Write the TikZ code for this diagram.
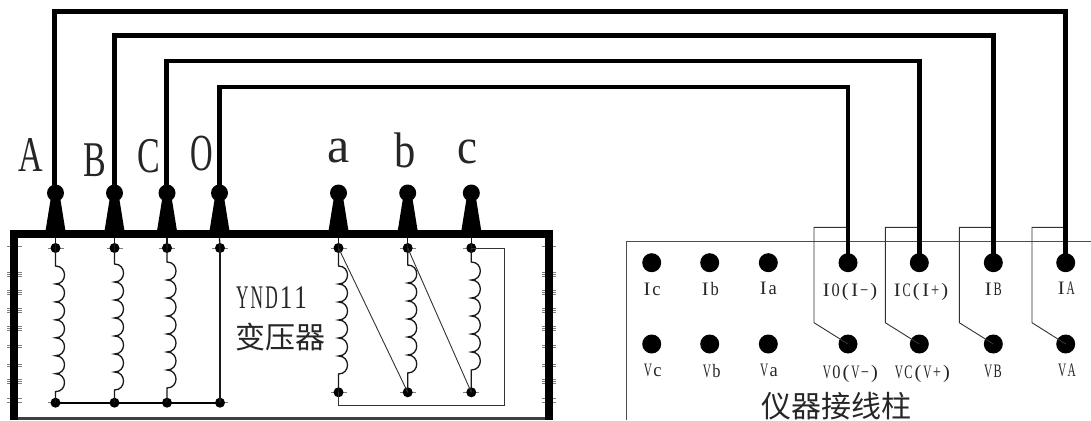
\documentclass[tikz,border=0pt]{standalone}
\usepackage{fontspec}
\setmainfont{Liberation Serif}
\newfontfamily\cjk{Noto Sans CJK SC}
\newcommand{\nar}[3]{\scalebox{#2}[1]{\fontsize{#1}{#1}\selectfont #3}}
% half-width text: every glyph is fitted to one fixed cell
\newdimen\hwadv
\newbox\hwbox
\def\hwfill{8}
\def\hwloop#1{\ifx#1\relax\else
  \setbox\hwbox\hbox{#1}%
  \pgfmathsetmacro\hwsc{min(1.08,\hwfill/(\the\wd\hwbox))}%
  \makebox[\hwadv][c]{\scalebox{\hwsc}[1]{#1}}\expandafter\hwloop\fi}
\newcommand{\hw}[4]{{\fontsize{#1}{#1}\selectfont\hwadv=#2pt\def\hwfill{#3}\edef\hwtmp{#4}\expandafter\hwloop\hwtmp\relax}}
\tikzset{
  x=1pt,y=-1pt,
  wire/.style={line width=4.6pt,line join=miter},
  lead/.style={line width=1.3pt,black!90},
  bus/.style={line width=2pt,black},
  thin lead/.style={line width=0.9pt,black!80},
  pin/.style={circle,fill=black,inner sep=0pt,minimum size=19pt},
  ball/.style={circle,fill=black,inner sep=0pt,minimum size=17pt},
  dot/.style={circle,fill=black,inner sep=0pt,minimum size=10pt},
  txt/.style={inner sep=0pt,text=black!85},
  blur/.style={line width=0.5pt,black!50},
}
\newcommand{\coil}[5]{% top node, bottom node, y start, step, count
  \draw[lead] (#1.center) |- ++(0,#3) foreach \i in {1,...,#5} { .. controls +(12,0) and +(12,0) .. ++(0,#4) } -- (#2.center);
}
\newcommand{\stud}[2]{% name, x
  \fill (#2-10,231) -- (#2-5,200) -- (#2+5,200) -- (#2+10,231) -- cycle;
  \node[ball] (#1) at (#2,193) {};
}
\begin{document}
\begin{tikzpicture}
\useasboundingbox (0,0) rectangle (1091,420);
\fill[white] (0,0) rectangle (1091,420);
% ticks on the tank walls
\foreach \yy in {246,272,274,276,290,292,294,308,310,312,326,328,330,345,347,364,366,379,381,383,398,402}{
  \draw[blur] (7,\yy) -- (22,\yy);
  \draw[blur] (542,\yy) -- (556,\yy);
}
% transformer tank
\draw[line width=8pt,line join=miter] (14,420) -- (14,234) -- (549,234) -- (549,420);
\draw[line width=2.5pt,black!75] (18,418.7) -- (545,418.7);
% studs
\stud{tA}{55.5}
\stud{tB}{114.5}
\stud{tC}{167}
\stud{tO}{219.5}
\stud{ta}{338.5}
\stud{tb}{407.7}
\stud{tc}{471.3}
% winding dots
\foreach \n/\xx in {A/55.5,B/114.5,C/167,O/220,a/338.5,b/407.7,c/471.3}{
  \draw[blur] (\xx-8,248) -- (\xx+8,248);
  \node[dot] (u\n) at (\xx,248) {};
  \draw[lead] (t\n.center |- 0,238) -- (u\n.center);
}
\foreach \n/\xx in {A/55.5,B/114.5,C/167,O/220}{
  \draw[blur] (\xx-8,402.7) -- (\xx+8,402.7);
  \node[dot] (d\n) at (\xx,402.7) {};
}
\foreach \n/\xx in {a/338.5,b/407.7,c/471.3}{
  \draw[blur] (\xx-8,392.3) -- (\xx+8,392.3);
  \node[dot] (d\n) at (\xx,392.3) {};
}
% windings
\coil{uA}{dA}{18}{17.95}{7}
\coil{uB}{dB}{16}{18}{7}
\coil{uC}{dC}{14}{18}{7}
\draw[lead] (uO.center) -- (dO.center);
\draw[bus] (dA.center) -- (dB.center) -- (dC.center) -- (dO.center);
\coil{ua}{da}{18}{18}{6}
\coil{ub}{db}{17}{18}{6}
\coil{uc}{dc}{14}{18}{6}
\draw[thin lead] (ua.center) -- (db.center);
\draw[thin lead] (ub.center) -- (dc.center);
\draw[thin lead] (uc.center) -- (504,248) -- (504,405) -- (338.5,405) -- (da.center);
% instrument box
\draw[line width=0.8pt,black!70] (1091,241) -- (626.7,241) -- (626.7,420);
\foreach \n/\xx in {Ic/651.7,Ib/709.7,Ia/768.3,IO/848,IC/919.3,IB/993.3,IA/1065.7}{
  \node[pin] (\n) at (\xx,262.7) {};
}
\foreach \n/\xx in {Vc/651.7,Vb/709.7,Va/768.3,VO/848,VC/919.3,VB/993.3,VA/1065.7}{
  \node[pin] (\n) at (\xx,344) {};
}
% shunt links
\foreach \n/\m/\xx in {IO/VO/814,IC/VC/885.3,IB/VB/959.3,IA/VA/1032}{
  \draw[thin lead] (\n.center |- 0,227.3) -- (\xx,227.3) -- (\xx,322.7) -- (\m.center);
}
% long wires
\draw[wire] ([xshift=-1pt]tA.center) -- ([xshift=-1pt]tA.center |- 0,11.5) -- (IA.center |- 0,11.5) -- (IA.center);
\draw[wire] (tB.center) -- (tB.center |- 0,35.5) -- (IB.center |- 0,35.5) -- (IB.center);
\draw[wire] ([xshift=-0.8pt]tC.center) -- ([xshift=-0.8pt]tC.center |- 0,61) -- (IC.center |- 0,61) -- (IC.center);
\draw[wire] (tO.center) -- (tO.center |- 0,87) -- (IO.center |- 0,87) -- (IO.center);
% terminal labels
\node[txt] (lA) at (31,155) {\nar{50}{0.68}{A}};
\node[txt] (lB) at (94.7,160) {\nar{50}{0.68}{B}};
\node[txt] (lC) at (148.7,156) {\nar{50}{0.68}{C}};
\node[txt] (lO) at (202,154) {\nar{52}{0.6}{O}};
\node[txt] (la) at (338.5,151.5) {\nar{50}{1}{a}};
\node[txt] (lb) at (405,150) {\nar{50}{0.85}{b}};
\node[txt] (lc) at (467.5,151.5) {\nar{50}{0.9}{c}};
\node[txt] (lY) at (271.5,297.5) {\hw{33}{14.6}{12.5}{YND11}};
\node[txt] (lT) at (280,337) {\fontsize{30}{30}\selectfont\cjk 变压器};
% pin labels
\foreach \t/\xx/\yy in {Ic/651.7/289,Ib/710/289,Ia/768/288,IB/993/289,IA/1066/288,Vc/652.7/370,Vb/711.7/371,Va/769/370,VB/993/371,VA/1067/370}{
  \node[txt] (l\t) at (\xx,\yy) {\hw{19}{9.5}{8.2}{\t}};
}
\node[txt] (lIO) at (850,292) {\hw{19}{9.5}{8.2}{I0(I−)}};
\node[txt] (lIC) at (921,292) {\hw{19}{9.5}{8.2}{IC(I+)}};
\node[txt] (lVO) at (850.7,374) {\hw{19}{9.5}{8.2}{V0(V−)}};
\node[txt] (lVC) at (922.7,374) {\hw{19}{9.5}{8.2}{VC(V+)}};
\node[txt] (lP) at (836.7,406) {\fontsize{30}{30}\selectfont\cjk 仪器接线柱};
\end{tikzpicture}
\end{document}
